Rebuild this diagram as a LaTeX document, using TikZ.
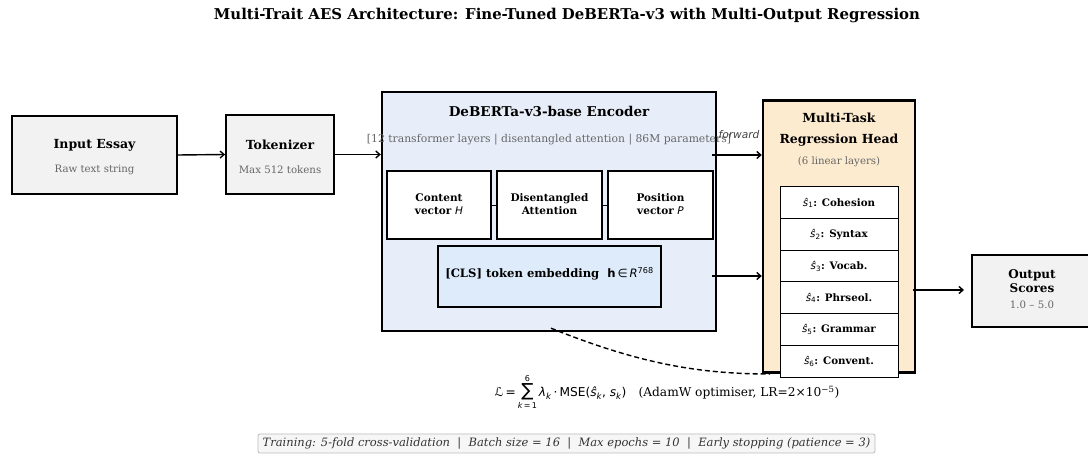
\documentclass[tikz,border=0pt]{standalone}
\usepackage{fontspec}
\setmainfont{DejaVu Serif}
\newfontfamily\dvs{DejaVu Sans}[ItalicFont={DejaVu Sans Oblique},BoldFont={DejaVu Sans Bold}]
\usetikzlibrary{arrows.meta}
\newcommand\mi[1]{{\dvs\itshape #1}}
\definecolor{boxgray}{HTML}{F2F2F2}
\definecolor{encfill}{HTML}{E8EEF9}
\definecolor{clsfill}{HTML}{DDEBFB}
\definecolor{headfill}{HTML}{FDEBD0}
\definecolor{subgray}{HTML}{666666}
\definecolor{notefill}{HTML}{F6F6F6}
\definecolor{noteline}{HTML}{BBBBBB}
\tikzset{
  blk/.style={draw=black, line width=1.8pt, fill=boxgray, inner sep=0pt},
  bigblk/.style={draw=black, line width=2.4pt, inner sep=0pt},
  inner/.style={draw=black, line width=1.3pt, fill=white, inner sep=0pt},
  ttl/.style={font=\bfseries\fontsize{12.5}{14}\selectfont, inner sep=0pt},
  sub/.style={text=subgray, font=\fontsize{10.2}{12}\selectfont, inner sep=0pt},
  small/.style={font=\bfseries\fontsize{10.5}{13.5}\selectfont, align=center, inner sep=0pt},
  trait/.style={draw=black, line width=1pt, fill=white, minimum width=118pt, minimum height=31.67pt, inner sep=0pt, font=\bfseries\fontsize{10.3}{12}\selectfont},
  arr/.style={-{Straight Barb[length=4pt,width=7pt]}, line width=1.4pt},
}
\begin{document}
\begin{tikzpicture}[x=1pt,y=-1pt]
\useasboundingbox (0,0) rectangle (1088,454);

% title
\node[font=\bfseries\fontsize{14.9}{17}\selectfont, inner sep=0pt] (title) at (567,15) {Multi-Trait AES Architecture: Fine-Tuned DeBERTa-v3 with Multi-Output Regression};

% input and tokenizer
\node[blk, minimum width=165pt, minimum height=78pt] (inp) at (94.5,155) {};
\node[ttl] (inpT) at (94.5,145) {Input Essay};
\node[sub] (inpS) at (94.5,170) {Raw text string};
\node[blk, minimum width=108pt, minimum height=79pt] (tok) at (280,154.5) {};
\node[ttl] (tokT) at (280,145) {Tokenizer};
\node[sub] (tokS) at (280,170) {Max 512 tokens};

% encoder
\node[bigblk, fill=encfill, minimum width=334pt, minimum height=239pt] (enc) at (549,211.5) {};
\node[ttl, font=\bfseries\fontsize{13.5}{15}\selectfont] (encT) at (549,111) {DeBERTa-v3-base Encoder};
\node[sub, font=\fontsize{10.8}{12}\selectfont] (encS) at (549,140) {[12 transformer layers | disentangled attention | 86M parameters]};
\node[inner, minimum width=104pt, minimum height=68pt] (cont) at (439,205) {};
\node[inner, minimum width=105pt, minimum height=68pt] (dis) at (549.5,205) {};
\node[inner, minimum width=105pt, minimum height=68pt] (pos) at (660.5,205) {};
\draw[line width=0.8pt] (cont.east) -- (dis.west);
\draw[line width=0.8pt] (dis.east) -- (pos.west);
\node[small] (contT) at (439,204) {Content\\vector \mi{\mdseries H}};
\node[small] (disT) at (549.5,204) {Disentangled\\Attention};
\node[small] (posT) at (660.5,204) {Position\\vector \mi{\mdseries P}};
\node[inner, fill=clsfill, minimum width=223pt, minimum height=61pt] (cls) at (549.5,276.5) {};
\node[small, font=\bfseries\fontsize{11.6}{13}\selectfont] (clsT) at (549.5,274) {[CLS] token embedding\ \ {\dvs\bfseries h}{\dvs\mdseries\,∈\,}\mi{\mdseries R}\textsuperscript{\dvs\mdseries 768}};

% loss link from encoder to head
\draw[dashed, dash pattern=on 5pt off 3pt, line width=1.4pt] ([shift={(2pt,4pt)}]enc.south) .. controls (640,364) and (700,374) .. (770,374) coordinate (lossEnd);

% regression head
\node[bigblk, fill=headfill, minimum width=152pt, minimum height=272pt] (hd) at (839,236.5) {};
\node[ttl] (hdT1) at (839,118) {Multi-Task};
\node[ttl] (hdT2) at (839,140) {Regression Head};
\node[sub] (hdS) at (839,162) {(6 linear layers)};
\node[trait] (t1) at (839,202.8) {\mi{\mdseries ŝ}\textsubscript{\dvs\mdseries 1}: Cohesion};
\node[trait] (t2) at (839,234.5) {\mi{\mdseries ŝ}\textsubscript{\dvs\mdseries 2}: Syntax};
\node[trait] (t3) at (839,266.2) {\mi{\mdseries ŝ}\textsubscript{\dvs\mdseries 3}: Vocab.};
\node[trait] (t4) at (839,297.8) {\mi{\mdseries ŝ}\textsubscript{\dvs\mdseries 4}: Phrseol.};
\node[trait] (t5) at (839,329.5) {\mi{\mdseries ŝ}\textsubscript{\dvs\mdseries 5}: Grammar};
\node[trait] (t6) at (839,361.2) {\mi{\mdseries ŝ}\textsubscript{\dvs\mdseries 6}: Convent.};

% output
\node[blk, minimum width=120pt, minimum height=72pt] (out) at (1032,291) {};
\node[small, font=\bfseries\fontsize{12}{14}\selectfont] (outT) at (1032,281) {Output\\Scores};
\node[sub] (outS) at (1032,305) {1.0 – 5.0};

% connectors
\draw[arr] (inp.east) -- (tok.west);
\draw[arr] (tok.east) -- (tok.east -| enc.west);
\coordinate (f1) at (712,155);
\coordinate (f2) at (712,276);
\draw[arr] (f1) -- (f1 -| hd.west);
\draw[arr] (f2) -- (f2 -| hd.west);
\node[font=\dvs\itshape\fontsize{10.6}{12}\selectfont, text=black!75, inner sep=0pt] (fwd) at (739,135) {forward};
\coordinate (h1) at (913,290);
\coordinate (h2) at (964,290);
\draw[arr] (h1) -- (h2);

% loss formula
\node[inner sep=0pt, font=\fontsize{12.2}{14}\selectfont] (loss) at (667,392) {{\dvs ℒ\,=\,}$\mathop{\hbox{\dvs\fontsize{18}{18}\selectfont ∑}}\limits^{\hbox{\dvs\fontsize{8}{8}\selectfont 6}}_{\hbox{\dvs\fontsize{8}{8}\selectfont\itshape k\upshape\,=\,1}}$\,\mi{λ}\textsubscript{\mi{k}}{\dvs\,·\,MSE(}\mi{ŝ}\textsubscript{\mi{k}}{\dvs, }\mi{s}\textsubscript{\mi{k}}{\dvs)}\quad(AdamW optimiser, LR=2×10\textsuperscript{−5})};

% training note
\node[draw=noteline, fill=notefill, rounded corners=2pt, line width=0.8pt, minimum width=617pt, minimum height=19pt, inner sep=0pt, text=black!80, font=\itshape\fontsize{11.5}{13}\selectfont] (note) at (566.5,443.5) {Training: 5-fold cross-validation\ \ |\ \ Batch size = 16\ \ |\ \ Max epochs = 10\ \ |\ \ Early stopping (patience = 3)};
\end{tikzpicture}
\end{document}
